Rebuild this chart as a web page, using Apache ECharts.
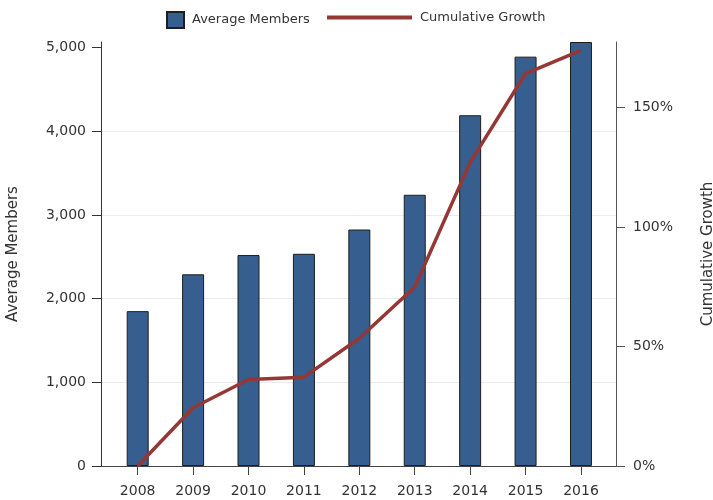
<!DOCTYPE html>
<html>
<head>
<meta charset="utf-8">
<script src="https://cdn.jsdelivr.net/npm/echarts@6/dist/echarts.min.js"></script>
<style>
  html, body { margin: 0; padding: 0; background: #fff; }
  #chart { width: 713px; height: 500px; }
</style>
</head>
<body>
<div id="chart"></div>
<script>
// values
const years = ["2008", "2009", "2010", "2011", "2012", "2013", "2014", "2015", "2016"];
const avgMembers = [1850, 2290, 2520, 2535, 2825, 3240, 4190, 4890, 5065];
const cumulativeGrowth = [0, 0.244, 0.362, 0.372, 0.535, 0.749, 1.271, 1.643, 1.74];
const memberTicks = [0, 1000, 2000, 3000, 4000, 5000];
const growthTicks = [0, 0.5, 1, 1.5];
const yearTicks = years.map((_, i) => i);

const barColor = "#365f8f";
const lineColor = "#953735";
const axisColor = "#444";
const textColor = "#333";
const font = "DejaVu Sans";

const chart = echarts.init(document.getElementById("chart"));

chart.setOption({
  animation: false,
  textStyle: { fontFamily: font },
  grid: { left: 101, right: 97, top: 42, bottom: 34, containLabel: false, outerBoundsMode: "none" },
  legend: [
    {
      data: [{ name: "Average Members", icon: "rect" }],
      left: 161,
      top: 6,
      itemWidth: 17,
      itemHeight: 16,
      textStyle: { fontSize: 13, color: textColor, fontFamily: font, padding: [0, 0, 0, 3] }
    },
    {
      data: [{ name: "Cumulative Growth", icon: "rect" }],
      left: 322,
      top: 6,
      itemWidth: 85,
      itemHeight: 4,
      itemStyle: { color: lineColor },
      textStyle: { fontSize: 13, color: textColor, fontFamily: font, padding: [0, 0, 0, 3] }
    }
  ],
  xAxis: {
    type: "value",
    min: -0.662,
    max: 8.632,
    axisLine: { show: true, onZero: false, lineStyle: { color: axisColor } },
    axisTick: { show: true, length: 9, customValues: yearTicks, lineStyle: { color: axisColor } },
    axisLabel: {
      customValues: yearTicks,
      formatter: (v) => years[v],
      margin: 18,
      fontSize: 14,
      color: textColor,
      fontFamily: font
    },
    splitLine: { show: false }
  },
  yAxis: [
    {
      type: "value",
      min: 0,
      max: 5065,
      interval: 1000,
      name: "Average Members",
      nameLocation: "middle",
      nameGap: 80,
      nameTextStyle: { fontSize: 15, color: textColor, fontFamily: font },
      axisLine: { show: true, onZero: false, lineStyle: { color: "#333" } },
      axisTick: { show: true, length: 9, customValues: memberTicks, lineStyle: { color: "#333" } },
      axisLabel: {
        customValues: memberTicks,
        formatter: (v) => v.toLocaleString("en-US"),
        margin: 15,
        fontSize: 14,
        color: textColor,
        fontFamily: font
      },
      splitLine: { show: true, showMaxLine: false, lineStyle: { color: "#ebebeb" } }
    },
    {
      type: "value",
      position: "right",
      min: 0,
      max: 1.775,
      name: "Cumulative Growth",
      nameLocation: "middle",
      nameGap: 85,
      nameTextStyle: { fontSize: 15, color: textColor, fontFamily: font },
      axisLine: { show: true, onZero: false, lineStyle: { color: "#555" } },
      axisTick: { show: true, length: 9, customValues: growthTicks, lineStyle: { color: "#555" } },
      axisLabel: {
        customValues: growthTicks,
        formatter: (v) => Math.round(v * 100) + "%",
        margin: 17,
        fontSize: 14,
        color: textColor,
        fontFamily: font
      },
      splitLine: { show: false }
    }
  ],
  series: [
    {
      name: "Average Members",
      type: "bar",
      barWidth: 22,
      itemStyle: { color: barColor, borderColor: "#1e1e1e", borderWidth: 1 },
      data: avgMembers.map((v, i) => [i, v])
    },
    {
      name: "Cumulative Growth",
      type: "line",
      yAxisIndex: 1,
      symbol: "none",
      lineStyle: { color: lineColor, width: 3.5 },
      itemStyle: { color: lineColor },
      z: 5,
      data: cumulativeGrowth.map((v, i) => [i, v])
    }
  ]
});
</script>
</body>
</html>
